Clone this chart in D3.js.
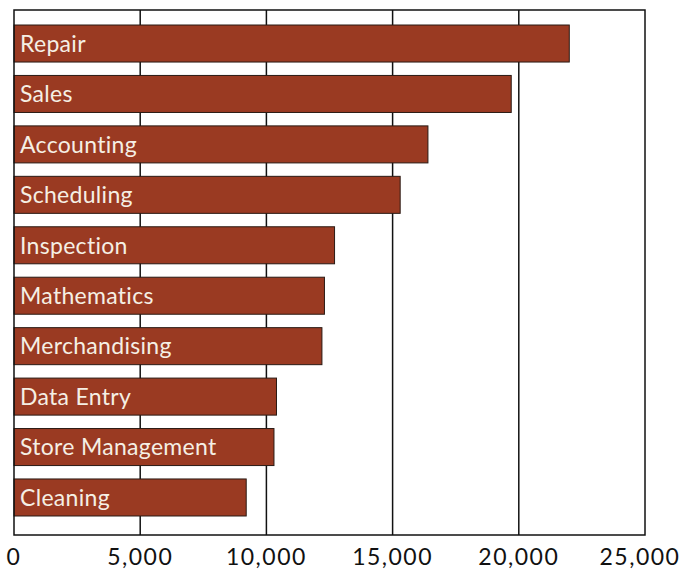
<!DOCTYPE html>
<html>
<head>
<meta charset="utf-8">
<script src="https://cdn.jsdelivr.net/npm/d3@7"></script>
<style>
  body { margin: 0; background: #fff; }
  text { font-variant-ligatures: none; }
</style>
</head>
<body>
<svg id="chart"></svg>
<script>
// data
const categories = ["Repair", "Sales", "Accounting", "Scheduling", "Inspection",
  "Mathematics", "Merchandising", "Data Entry", "Store Management", "Cleaning"];
const values = [22000, 19700, 16400, 15300, 12700, 12300, 12200, 10400, 10300, 9200];
const tickValues = [0, 5000, 10000, 15000, 20000, 25000];

const width = 684;
const height = 569;
const plot = { left: 14, top: 10, right: 645, bottom: 535 };
const font = "'Lato', 'Open Sans', sans-serif";

const svg = d3.select("#chart").attr("width", width).attr("height", height);

const x = d3.scaleLinear().domain([0, 25000]).range([plot.left, plot.right]);
const y = d3.scaleBand()
  .domain(categories)
  .range([18.3, 522.7])
  .paddingInner(0.266)
  .paddingOuter(0.133);

// grid lines behind bars
svg.append("g")
  .selectAll("line")
  .data(tickValues.slice(1, -1))
  .join("line")
  .attr("x1", d => x(d)).attr("x2", d => x(d))
  .attr("y1", plot.top).attr("y2", plot.bottom)
  .attr("stroke", "#111")
  .attr("stroke-width", 1.5);

// bars
svg.append("g")
  .selectAll("rect")
  .data(values)
  .join("rect")
  .attr("x", x(0))
  .attr("y", (d, i) => y(categories[i]))
  .attr("width", d => x(d) - x(0))
  .attr("height", y.bandwidth())
  .attr("fill", "#9a3a22")
  .attr("stroke", "#2a1a14")
  .attr("stroke-width", 1);

// labels inside bars
svg.append("g")
  .selectAll("text")
  .data(categories)
  .join("text")
  .attr("x", x(0) + 6)
  .attr("y", d => y(d) + y.bandwidth() / 2)
  .attr("dy", "0.36em")
  .attr("fill", "#f5efe4")
  .style("font-family", font)
  .style("font-size", "23px")
  .style("letter-spacing", "0.3px")
  .text(d => d);

// frame
svg.append("rect")
  .attr("x", plot.left).attr("y", plot.top)
  .attr("width", plot.right - plot.left)
  .attr("height", plot.bottom - plot.top)
  .attr("fill", "none")
  .attr("stroke", "#111")
  .attr("stroke-width", 1.5);

// x axis labels
svg.append("g")
  .selectAll("text")
  .data(tickValues)
  .join("text")
  .attr("x", d => Math.min(x(d), 640))
  .attr("y", 565)
  .attr("text-anchor", "middle")
  .attr("fill", "#111")
  .style("font-family", font)
  .style("font-size", "23px")
  .style("letter-spacing", "1.5px")
  .text(d => d3.format(",")(d));
</script>
</body>
</html>
